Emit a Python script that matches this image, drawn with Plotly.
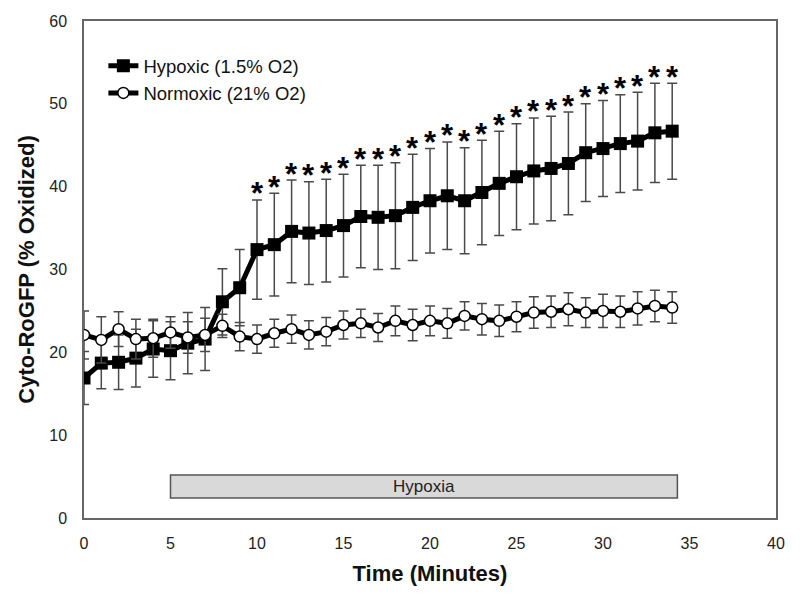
import plotly.graph_objects as go

time_min = list(range(0, 35))

hypoxic_mean = [16.9, 18.7, 18.8, 19.3, 20.4, 20.2, 21.1, 21.6, 26.1, 27.8,
                32.4, 33.0, 34.6, 34.4, 34.7, 35.3, 36.4, 36.3, 36.5, 37.5,
                38.3, 38.9, 38.3, 39.3, 40.4, 41.2, 41.9, 42.2, 42.8, 44.1,
                44.6, 45.2, 45.5, 46.5, 46.7]
hypoxic_sd = [3.2, 3.1, 3.3, 3.5, 3.4, 3.5, 3.7, 3.8, 4.0, 4.6,
              6.0, 6.2, 6.2, 6.2, 6.2, 6.2, 6.2, 6.3, 6.4, 6.4,
              6.3, 6.5, 6.4, 6.3, 6.3, 6.4, 6.4, 6.3, 6.2, 5.9,
              5.8, 5.9, 5.9, 6.0, 5.8]

normoxic_mean = [22.1, 21.5, 22.8, 21.6, 21.7, 22.4, 21.8, 22.1, 23.2, 21.9,
                 21.6, 22.3, 22.8, 22.1, 22.5, 23.3, 23.5, 23.0, 23.8, 23.3,
                 23.8, 23.5, 24.4, 24.0, 23.8, 24.3, 24.8, 24.9, 25.2, 24.8,
                 25.0, 24.9, 25.3, 25.6, 25.4]
normoxic_sd = [2.9, 2.8, 2.1, 2.4, 2.3, 1.9, 1.9, 2.0, 1.4, 1.7,
               1.7, 1.7, 1.7, 1.7, 1.7, 1.7, 1.7, 1.7, 1.8, 1.9,
               1.8, 1.8, 1.7, 1.9, 1.9, 1.8, 1.9, 1.9, 2.0, 1.8,
               2.0, 1.9, 2.0, 1.9, 1.9]

significant = [False] * 10 + [True] * 25

hypoxia_start, hypoxia_end = 5, 34.3
hypoxia_bar_low, hypoxia_bar_high = 2.4, 5.2

x_ticks = [0, 5, 10, 15, 20, 25, 30, 35, 40]
y_ticks = [0, 10, 20, 30, 40, 50, 60]

FONT = "Liberation Sans, Arial, sans-serif"

fig = go.Figure()

fig.add_trace(go.Scatter(
    x=time_min, y=hypoxic_mean, name="Hypoxic (1.5% O2)",
    mode="lines+markers",
    line=dict(color="black", width=5),
    marker=dict(symbol="square", size=13, color="black"),
    error_y=dict(type="data", array=hypoxic_sd, visible=True,
                 color="#4a4a4a", thickness=1.5, width=5),
))

fig.add_trace(go.Scatter(
    x=time_min, y=normoxic_mean, name="Normoxic (21% O2)",
    mode="lines+markers",
    line=dict(color="black", width=5),
    marker=dict(symbol="circle", size=11, color="white",
                line=dict(color="black", width=1.5)),
    error_y=dict(type="data", array=normoxic_sd, visible=True,
                 color="#4a4a4a", thickness=1.5, width=5),
))

# Hypoxia period bar
fig.add_shape(type="rect", x0=hypoxia_start, x1=hypoxia_end,
              y0=hypoxia_bar_low, y1=hypoxia_bar_high,
              fillcolor="#d9d9d9", line=dict(color="#555555", width=1.5),
              layer="above")
fig.add_annotation(x=(hypoxia_start + hypoxia_end) / 2,
                   y=(hypoxia_bar_low + hypoxia_bar_high) / 2,
                   text="Hypoxia", showarrow=False,
                   font=dict(family=FONT, size=17, color="#222"))

# significance stars
for t, m, s, sig in zip(time_min, hypoxic_mean, hypoxic_sd, significant):
    if sig:
        fig.add_annotation(x=t, y=m + s, text="<b>*</b>", showarrow=False,
                           yanchor="middle", yshift=6,
                           font=dict(family=FONT, size=31, color="black"))

fig.update_layout(
    width=800, height=601,
    margin=dict(l=75.5, r=32, t=12.7, b=90.7, autoexpand=False),
    paper_bgcolor="white", plot_bgcolor="white",
    font=dict(family=FONT, color="#222"),
    showlegend=True,
    legend=dict(x=0.028, y=0.947, xanchor="left", yanchor="top",
                bgcolor="rgba(0,0,0,0)", font=dict(family=FONT, size=18.5, color="#111"),
                itemwidth=30, tracegroupgap=0),
)

fig.update_xaxes(range=[0, 40], tickvals=x_ticks, showgrid=False, zeroline=False,
                 showline=True, linecolor="#666", linewidth=1.5, mirror=True,
                 ticks="", ticklabelstandoff=10,
                 tickfont=dict(family=FONT, size=16, color="#222"),
                 title=dict(text="<b>Time (Minutes)</b>", standoff=15,
                            font=dict(family=FONT, size=22, color="#111")))
fig.update_yaxes(range=[0, 60], tickvals=y_ticks, showgrid=False, zeroline=False,
                 showline=True, linecolor="#666", linewidth=1.5, mirror=True,
                 ticks="", ticklabelstandoff=12,
                 tickfont=dict(family=FONT, size=16, color="#222"),
                 title=dict(text="<b>Cyto-RoGFP (% Oxidized)</b>", standoff=9,
                            font=dict(family=FONT, size=22, color="#111")))

fig.write_html("out.html")
